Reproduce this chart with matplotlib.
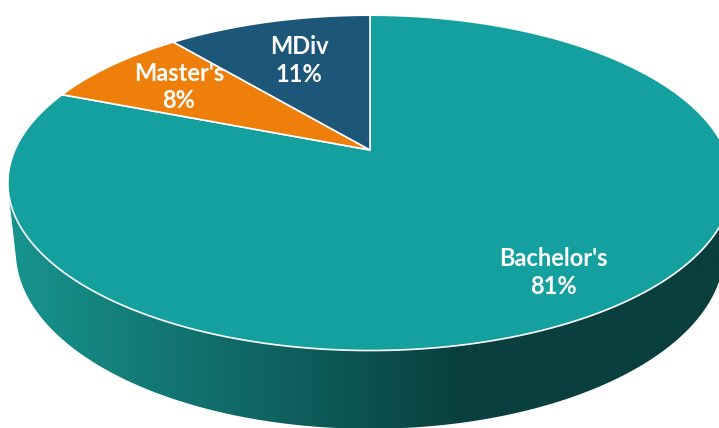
import numpy as np
import matplotlib.pyplot as plt
from matplotlib.patches import Polygon
from matplotlib.colors import to_rgb

labels = ["Bachelor's", "Master's", "MDiv"]
values = [81, 8, 11]
colors = ['#13a09f', '#ee7f0a', '#1c5678']

# 3d look (perspective view of a flat cylinder), all in pixel space
cx, cy = 370, 150
alpha = np.radians(27)
D = 4.545          # camera distance, radius = 1
F = 1614           # focal length in px
h = 0.218          # thickness
label_r = [0.8, 0.72, 0.66]

s, c = np.sin(alpha), np.cos(alpha)


def proj(x, y, z):
    d = D - y * s - z * c
    X = F * x / d
    Y = F * (y * c - z * s) / d
    return np.column_stack([cx + X, cy - Y])


def rim(t0, t1, y=0.0, n=200):
    t = np.linspace(t0, t1, n)
    return proj(np.sin(t), np.full_like(t, y), -np.cos(t))


fig = plt.figure(figsize=(7.19, 4.28), dpi=100)
ax = fig.add_axes([0, 0, 1, 1])
ax.set_xlim(0, 719)
ax.set_ylim(428, 0)
ax.axis('off')

# visible part of the side
zs = 1 / (D * c)
v0, v1 = np.arccos(-zs), 2 * np.pi - np.arccos(-zs)
side = np.vstack([rim(v0, v1), rim(v1, v0, y=-h)])
side_patch = Polygon(side, closed=True, facecolor='none', edgecolor='none')
ax.add_patch(side_patch)

c_left = np.array(to_rgb('#17938e'))
c_right = np.array(to_rgb('#093f3e'))
xs = np.linspace(0, 719, 720)
t = np.clip((xs - 15) / 450, 0, 1)[:, None]
grad = (c_left * (1 - t) + c_right * t)[None, :, :]
im = ax.imshow(grad, extent=(0, 719, 428, 0), aspect='auto', zorder=1)
im.set_clip_path(side_patch)

# top face slices
frac = np.array(values) / sum(values)
edges = np.concatenate([[0], np.cumsum(frac)]) * 2 * np.pi
apex = proj(np.array([0.0]), np.array([0.0]), np.array([0.0]))
for i, lab in enumerate(labels):
    pts = np.vstack([apex, rim(edges[i], edges[i + 1])])
    ax.add_patch(Polygon(pts, closed=True, facecolor=colors[i],
                         edgecolor='white', lw=1.2, zorder=2,
                         joinstyle='round'))
    mid = (edges[i] + edges[i + 1]) / 2
    r = label_r[i]
    p = proj(np.array([r * np.sin(mid)]), np.array([0.0]),
             np.array([-r * np.cos(mid)]))[0]
    ax.text(p[0], p[1], f"{lab}\n{values[i]}%", ha='center', va='center',
            color='white', fontsize=17, fontweight='bold', family='Lato',
            linespacing=1.25, zorder=3)

plt.savefig('out.png', dpi=100)
